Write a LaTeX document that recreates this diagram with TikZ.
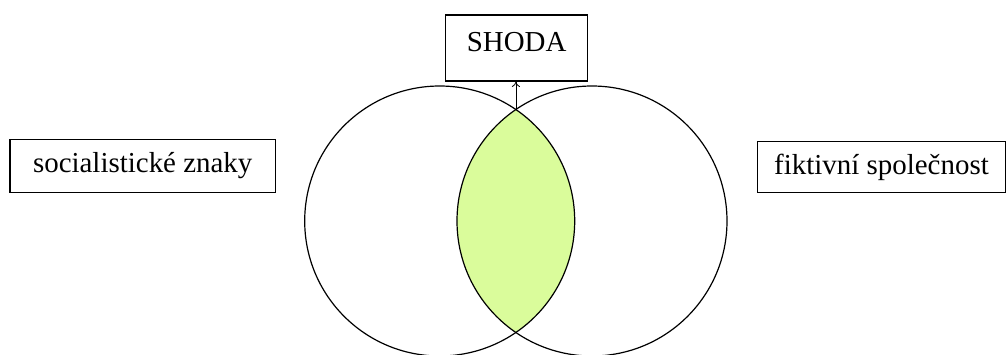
\documentclass[tikz,border=0pt]{standalone}
\usepackage{fontspec}
\setmainfont{Liberation Serif}
\usetikzlibrary{arrows.meta}
\definecolor{lensgreen}{RGB}{218,252,155}
\begin{document}
\begin{tikzpicture}[x=0.75pt,y=-0.75pt,
  labelbox/.style={draw=black, line width=0.9pt, inner sep=0pt, font=\rmfamily\fontsize{21.7}{24}\selectfont, text=black},
  ring/.style={draw=black, line width=0.9pt},
  pointer/.style={draw=black, line width=0.6pt, -{To[length=4pt,width=6pt]}}
]
\useasboundingbox (0,0) rectangle (1008,354);
\fill[white] (0,0) rectangle (1008,354);
\coordinate (L) at (439.7,221);
\coordinate (R) at (592,221);
\coordinate (top) at (515.9,110);
% lens
\begin{scope}
  \clip (L) circle (101.25pt);
  \fill[lensgreen] (R) circle (101.25pt);
\end{scope}
\draw[ring] (L) circle (101.25pt);
\draw[ring] (R) circle (101.25pt);
% boxes
\node[labelbox, minimum width=106.5pt, minimum height=49.5pt, text depth=9pt] (shoda) at (516.7,48) {SHODA};
\node[labelbox, minimum width=199pt, minimum height=40pt] (soc) at (142.7,165.8) {socialistické znaky};
\node[labelbox, minimum width=186pt, minimum height=38pt] (fik) at (881.5,167) {fiktivní společnost};
\draw[pointer] (top) -- (top |- shoda.south);
\end{tikzpicture}
\end{document}
